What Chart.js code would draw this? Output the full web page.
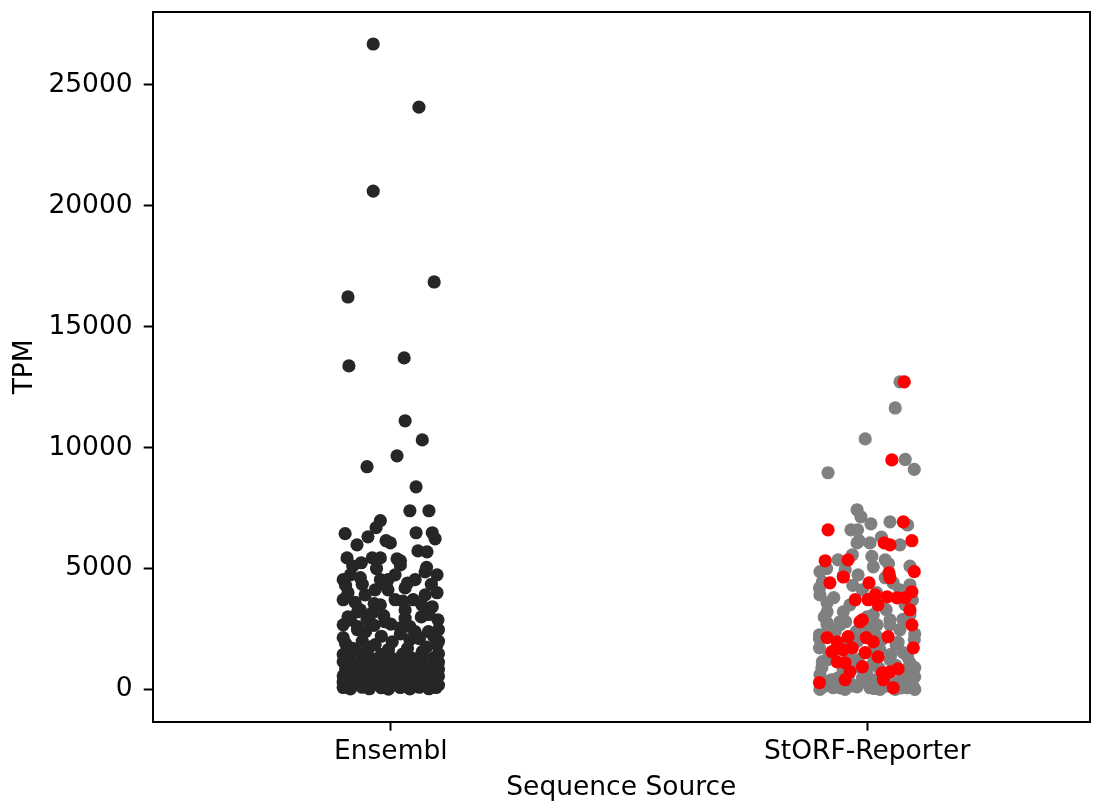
<!DOCTYPE html>
<html>
<head>
<meta charset="utf-8">
<script src="https://cdn.jsdelivr.net/npm/chart.js@4/dist/chart.umd.min.js"></script>
<style>
  html, body { margin: 0; padding: 0; background: #ffffff; }
  #wrap { width: 1093px; height: 801px; }
</style>
</head>
<body>
<div id="wrap"><canvas id="c" width="1093" height="801"></canvas></div>
<script>
// ---------- data ----------
const categories = ['Ensembl', 'StORF-Reporter'];
const yTicks = [0, 5000, 10000, 15000, 20000, 25000];
const xTitle = 'Sequence Source';
const yTitle = 'TPM';

// Ensembl (category 0): horizontal jitter and TPM value of each point
const ensemblJitter = [
  -0.037, 0.059, -0.037, -0.090, 0.091, -0.088, 0.028, 0.030, 0.066, 0.013,
  -0.050, 0.053, 0.040, 0.080, -0.022, -0.031, -0.096, -0.048, -0.010, 0.053,
  0.087, 0.093, 0.057, -0.071, -0.092, -0.062, -0.039, -0.022, -0.001, 0.013,
  0.020, 0.076, 0.072, 0.051, 0.030, -0.064, -0.022, -0.006, -0.090, -0.100,
  -0.033, -0.006, 0.009, 0.097, 0.087, 0.047, -0.064, -0.039, 0.064, 0.099,
  -0.085, -0.012, 0.020, 0.079, -0.053, -0.100, 0.040, 0.003, -0.033, 0.097,
  -0.075, 0.066, -0.096,
  -0.070, 0.051, 0.100, -0.022, 0.030, -0.054, 0.072, -0.085, 0.009, 0.097, -0.070, -0.100, -0.100,
  -0.080, -0.030, 0.020, 0.075,
  -0.095, -0.060, -0.010, 0.035, 0.085,
  -0.075, -0.035, 0.025, 0.065,
  -0.090, -0.050, -0.015, 0.030, 0.080,
  -0.070, -0.035, 0.000, 0.040, 0.090,
  -0.095, -0.060, -0.020, 0.020, 0.060, 0.100,
  -0.080, -0.045, -0.005, 0.035, 0.075,
  -0.100, -0.060, -0.020, 0.025, 0.065, 0.100,
  -0.085, -0.040, 0.000, 0.045, 0.090,
  -0.100, -0.060, -0.020, 0.025, 0.065, 0.100,
  -0.080, -0.040, 0.005, 0.045, 0.085,
  -0.095, -0.055, -0.015, 0.030, 0.070, 0.100,
  -0.075, -0.035, 0.010, 0.050, 0.090,
  -0.100, -0.060, -0.020, 0.025, 0.065, 0.100,
  -0.085, -0.045, -0.005, 0.040, 0.080,
  -0.100, -0.065, -0.025, 0.015, 0.055, 0.095,
  -0.080, -0.040, 0.000, 0.035, 0.075, 0.100,
  -0.100, -0.060, -0.020, 0.020, 0.060, 0.095,
  -0.085, -0.045, -0.005, 0.040, 0.080
];
const ensemblTPM = [
  26690, 24080, 20610, 16230, 16850, 13380, 13710, 11110, 10320, 9660,
  9210, 8380, 7390, 7390, 6980, 6690, 6440, 6310, 6150, 6480,
  6480, 6230, 5730, 5980, 5440, 5240, 5440, 5440, 6060, 5400,
  5320, 5690, 4860, 4540, 4200, 4620, 4540, 4540, 4000, 3710,
  4120, 4120, 3710, 4000, 3420, 3710, 3290, 3170, 3000, 2880,
  2880, 2800, 2550, 2390, 2390, 2140, 2060, 1970, 1850, 1850,
  1640, 1560, 1430,
  2470, 2390, 2470, 3500, 3290, 3910, 3910, 4740, 4740, 4740, 3210, 2670, 4540,
  5100, 5000, 5150, 5050,
  4300, 4350, 4300, 4400, 4350,
  3600, 3550, 3650, 3500,
  3000, 2900, 3050, 2950, 3100,
  2600, 2650, 2700, 2600, 2200,
  1900, 2000, 2200, 2300, 2100, 2000,
  1700, 1750, 1650, 1700, 1750,
  1450, 1470, 1440, 1460, 1450, 1480,
  1300, 1280, 1320, 1290, 1310,
  1150, 1160, 1140, 1170, 1150, 1130,
  1000, 1010, 990, 1020, 1000,
  850, 860, 840, 850, 870, 850,
  700, 710, 690, 700, 720,
  560, 550, 570, 560, 540, 560,
  420, 430, 410, 420, 430,
  300, 290, 310, 300, 290, 300,
  180, 190, 170, 180, 190, 180,
  80, 90, 70, 80, 90, 80,
  20, 30, 10, 20, 30
];

// StORF-Reporter (category 1), grey points
const storfGreyJitter = [
  0.069, 0.059, -0.004, 0.080, 0.099, -0.082, -0.021, -0.013, 0.008, 0.048,
  -0.034, -0.017, 0.006, 0.069, -0.021, -0.061, -0.099, -0.094, -0.019, 0.013,
  0.038, 0.090, 0.069, -0.010, -0.099, -0.084, -0.050, -0.084, 0.013, 0.048,
  -0.057, -0.084, -0.084, -0.057, 0.021, 0.048, 0.069, -0.100, -0.094, 0.076,
  0.090, 0.100, -0.099, -0.071, -0.021, 0.006, 0.084, 0.097,
  -0.100, -0.067, -0.023, 0.002, 0.031, 0.061, 0.099, -0.036, -0.082, -0.019,
  0.011, 0.048, 0.080, -0.099, -0.061, -0.010, 0.019, 0.065, 0.100, -0.046,
  0.027, 0.059, -0.086, -0.034, -0.002, 0.044, 0.076,
  -0.046, -0.031, 0.038, 0.080, 0.027, -0.065, 0.090, -0.036,
  -0.090, -0.055, -0.030, 0.015, 0.035, 0.070, 0.090,
  -0.075, -0.040, 0.000, 0.040, 0.085,
  -0.095, -0.050, -0.020, 0.025, 0.060, 0.100,
  -0.080, -0.040, 0.005, 0.050, 0.085,
  -0.100, -0.060, -0.020, 0.020, 0.065, 0.100,
  -0.090, -0.045, 0.000, 0.040, 0.075,
  -0.100, -0.070, -0.030, 0.020, 0.055, 0.095,
  -0.085, -0.050, 0.010, 0.045, 0.090,
  -0.020, 0.030, 0.085
];
const storfGreyTPM = [
  12720, 11640, 10360, 9510, 9100, 8960, 7430, 7140, 6850, 6930,
  6600, 6150, 6060, 5980, 6060, 5360, 4870, 4450, 4740, 5070,
  4620, 4330, 4120, 4120, 3910, 3580, 3210, 3210, 3090, 2880,
  2800, 2760, 2670, 2670, 2670, 2670, 2470, 1720, 1150, 1520,
  1100, 520, 0, 70, 110, 70, 70, 110,
  2260, 2390, 2390, 2550, 2060, 1850, 2060, 1850, 1230, 1230,
  1020, 1230, 810, 610, 480, 480, 400, 320, 0, 0,
  0, 0, 190, 230, 320, 150, 480,
  4950, 5570, 5360, 3500, 1640, 1640, 3090, 3500,
  130, 60, 150, 40, 120, 60, 200,
  400, 550, 600, 500, 350,
  900, 800, 950, 880, 1000, 900,
  1400, 1300, 1500, 1450, 1350,
  2100, 1900, 2000, 2200, 1950, 2300,
  3000, 2800, 3000, 3300, 2900,
  4200, 3800, 4300, 4000, 4400, 3700,
  5000, 4700, 5500, 5200, 5100,
  6600, 6300, 6800
];

// StORF-Reporter (category 1), red points
const storfRedJitter = [
  0.078, 0.052, 0.076, -0.082, 0.036, 0.048, 0.094, -0.088, -0.040, -0.050,
  -0.078, 0.004, 0.046, 0.048, 0.099, 0.094, 0.017, 0.042, 0.063, 0.080,
  0.002, -0.025, 0.023, 0.090, -0.010, 0.094, -0.015, -0.084, -0.063, -0.040,
  -0.002, 0.013, 0.044, 0.097, -0.074, -0.050, -0.031, -0.004, 0.023, -0.063,
  -0.046, -0.010, -0.036, 0.032, 0.048, 0.065, 0.034, -0.046, -0.100, 0.055
];
const storfRedTPM = [
  12720, 9490, 6930, 6600, 6060, 5980, 6150, 5320, 5360, 4650,
  4410, 4410, 4820, 4620, 4870, 4040, 3910, 3830, 3790, 3790,
  3710, 3710, 3500, 3290, 2880, 2670, 2800, 2140, 1970, 2180,
  2140, 1970, 2180, 1720, 1560, 1640, 1720, 1520, 1350, 1140,
  1100, 940, 730, 690, 730, 850, 400, 400, 280, 70
];

// ---------- helpers ----------
function points(catIndex, jitter, values) {
  return values.map((v, i) => ({ x: catIndex + jitter[i], y: v }));
}

const FONT = 'DejaVu Sans';
const FS = 26.5;
const LW = 2;

const framePlugin = {
  id: 'frame',
  afterDraw(chart) {
    const { ctx, chartArea: a } = chart;
    ctx.save();
    ctx.strokeStyle = '#000000';
    ctx.lineWidth = LW;
    ctx.beginPath();
    ctx.moveTo(a.left, a.top);
    ctx.lineTo(a.right, a.top);
    ctx.lineTo(a.right, a.bottom);
    ctx.stroke();
    ctx.restore();
  }
};

new Chart(document.getElementById('c'), {
  type: 'scatter',
  data: {
    datasets: [
      {
        label: 'StORF-Reporter (red)',
        data: points(1, storfRedJitter, storfRedTPM),
        backgroundColor: '#ff0000',
        pointRadius: 6.6,
        pointBorderWidth: 0,
        order: 0
      },
      {
        label: 'StORF-Reporter',
        data: points(1, storfGreyJitter, storfGreyTPM),
        backgroundColor: '#808080',
        pointRadius: 6.6,
        pointBorderWidth: 0,
        order: 1
      },
      {
        label: 'Ensembl',
        data: points(0, ensemblJitter, ensemblTPM),
        backgroundColor: '#262626',
        pointRadius: 6.6,
        pointBorderWidth: 0,
        order: 2
      }
    ]
  },
  options: {
    responsive: false,
    devicePixelRatio: 1,
    animation: false,
    events: [],
    layout: { autoPadding: false, padding: { left: 0, top: 12, right: 3, bottom: 0 } },
    plugins: {
      legend: { display: false },
      tooltip: { enabled: false },
      title: { display: false }
    },
    scales: {
      x: {
        type: 'linear',
        min: -0.5,
        max: 1.468,
        afterBuildTicks(scale) { scale.ticks = categories.map((c, i) => ({ value: i })); },
        afterFit(scale) { scale.height = 79.3; scale.paddingLeft = 0; scale.paddingRight = 0; },
        ticks: {
          autoSkip: false,
          maxRotation: 0,
          padding: 6,
          color: '#000000',
          font: { family: FONT, size: FS },
          callback: (v) => categories[v]
        },
        grid: {
          drawOnChartArea: false,
          drawTicks: true,
          tickLength: 9,
          tickWidth: LW,
          tickColor: '#000000'
        },
        border: { display: true, color: '#000000', width: LW },
        title: {
          display: true,
          text: xTitle,
          color: '#000000',
          font: { family: FONT, size: FS, lineHeight: 1.0 },
          padding: { top: 0, bottom: 0 }
        }
      },
      y: {
        type: 'linear',
        min: -1334,
        max: 28014,
        afterBuildTicks(scale) { scale.ticks = yTicks.map(v => ({ value: v })); },
        afterFit(scale) { scale.width = 152.7; scale.paddingTop = 0; scale.paddingBottom = 0; },
        ticks: {
          padding: 11,
          color: '#000000',
          font: { family: FONT, size: FS },
          callback: (v) => String(v)
        },
        grid: {
          drawOnChartArea: false,
          drawTicks: true,
          tickLength: 9,
          tickWidth: LW,
          tickColor: '#000000'
        },
        border: { display: true, color: '#000000', width: LW },
        title: {
          display: true,
          text: yTitle,
          color: '#000000',
          font: { family: FONT, size: FS, lineHeight: 1.0 },
          padding: { top: 12, bottom: 0 }
        }
      }
    }
  },
  plugins: [framePlugin]
});
</script>
</body>
</html>
